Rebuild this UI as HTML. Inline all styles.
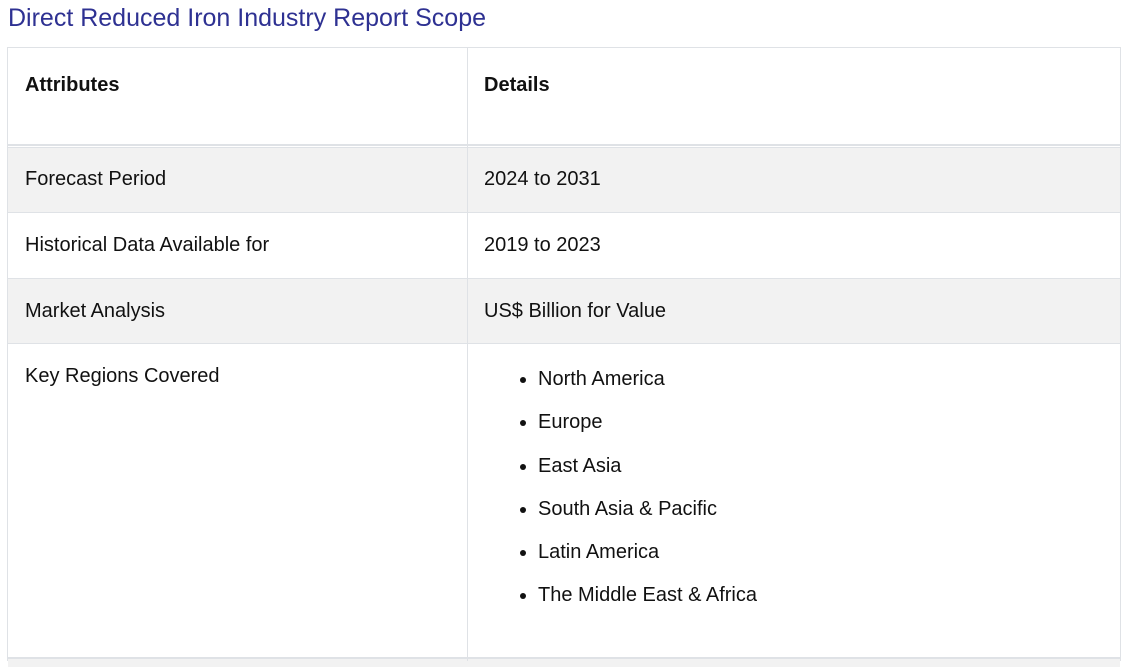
<!DOCTYPE html>
<html><head><meta charset="utf-8"><style>
body{margin:0;width:1125px;height:661px;overflow:hidden;background:#fff;font-family:"Liberation Sans",sans-serif;position:relative}
.a{position:absolute}
.t{font-size:20px;color:#111;white-space:nowrap}
.row{position:absolute;left:8px;width:1112px;box-sizing:border-box;border-top:1px solid #dfe2e6}
.g{background:#f2f2f2}
</style></head><body>
<div class="a" style="left:8px;top:4px;font-size:25px;color:#2e3192;white-space:nowrap">Direct Reduced Iron Industry Report Scope</div>
<div>
<div class="row" style="top:47px;height:99px;border-bottom:2px solid #dfe2e6"></div>
<div class="row g" style="top:147px;height:65px"></div>
<div class="row" style="top:212px;height:66px"></div>
<div class="row g" style="top:278px;height:65px"></div>
<div class="row" style="top:343px;height:314px"></div>
<div class="row g" style="top:657px;height:10px;border-top:2px solid #dfe2e6"></div>
<div class="a" style="left:7px;top:47px;width:1px;height:614px;background:#dfe2e6"></div>
<div class="a" style="left:1120px;top:47px;width:1px;height:614px;background:#dfe2e6"></div>
<div class="a" style="left:467px;top:47px;width:1px;height:614px;background:#dfe2e6"></div>

<div class="a t" style="left:25px;top:74px;font-weight:bold">Attributes</div>
<div class="a t" style="left:484px;top:74px;font-weight:bold">Details</div>
<div class="a t" style="left:25px;top:168px">Forecast Period</div>
<div class="a t" style="left:484px;top:168px">2024 to 2031</div>
<div class="a t" style="left:25px;top:234px">Historical Data Available for</div>
<div class="a t" style="left:484px;top:234px">2019 to 2023</div>
<div class="a t" style="left:25px;top:300px">Market Analysis</div>
<div class="a t" style="left:484px;top:300px">US$ Billion for Value</div>
<div class="a t" style="left:25px;top:365px">Key Regions Covered</div>
<ul class="a t" style="left:498px;top:358px;margin:0;padding-left:40px;line-height:43.3px;list-style:disc">
<li>North America</li>
<li>Europe</li>
<li>East Asia</li>
<li>South Asia &amp; Pacific</li>
<li>Latin America</li>
<li>The Middle East &amp; Africa</li>
</ul>
</div>
</body></html>
